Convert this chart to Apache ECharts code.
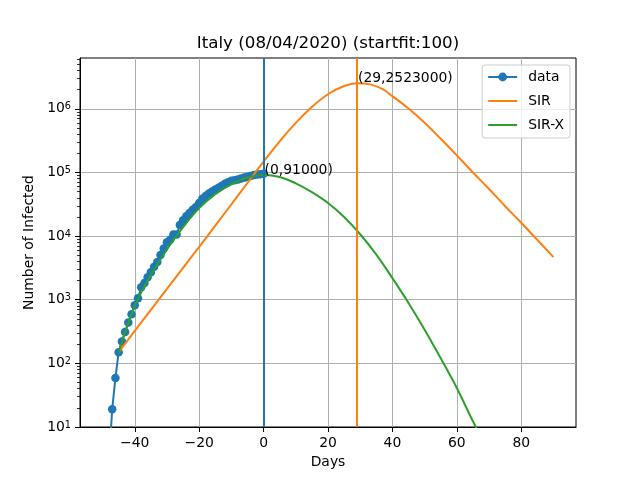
<!DOCTYPE html>
<html>
<head>
<meta charset="utf-8">
<script src="https://cdn.jsdelivr.net/npm/echarts@6/dist/echarts.min.js"></script>
<style>
  html, body { margin: 0; padding: 0; background: #fff; }
  #chart { width: 640px; height: 480px; }
</style>
</head>
<body>
<div id="chart"></div>
<script>
// observed data (days relative to 08/04/2020)
const days = [-50, -49, -48, -47, -46, -45, -44, -43, -42, -41, -40, -39, -38, -37, -36, -35,
  -34, -33, -32, -31, -30, -29, -28, -27, -26, -25, -24, -23, -22, -21, -20, -19, -18,
  -17, -16, -15, -14, -13, -12, -11, -10, -9, -8, -7, -6, -5, -4, -3, -2, -1, 0];
const infected = [3, 3, 3, 19, 59, 150, 221, 311, 438, 593, 821, 1053, 1577, 1835, 2263, 2706,
  3296, 3916, 5061, 6387, 7985, 8794, 10590, 10590, 14955, 17750, 20603, 23073, 26062, 28710, 33190, 38549, 42681,
  46638, 50418, 54030, 57521, 62013, 66414, 70065, 73880, 75528, 77635, 80572, 83049, 85388, 88274, 91246, 93187, 94067, 95262];

// SIR fit
const sirDays = [-45, -40, -35, -30, -25, -20, -15, -10, -5, 0, 5, 10, 15, 20, 25, 29, 33, 37, 40,
  45, 50, 55, 60, 65, 70, 75, 80, 85, 90];
const sirValues = [150, 324, 692, 1480, 3160, 6760, 14600, 31600, 68400, 148000, 309000, 603000, 1072000,
  1698000, 2291000, 2523000, 2427000, 2042000, 1585000, 1012000, 603000, 339000, 186000, 100000,
  55000, 29500, 16200, 8710, 4680];

// SIR-X fit
const sirxDays = [-45, -40, -35, -30, -25, -20, -15, -10, -5, 0, 5, 10, 15, 20, 25, 30, 35, 40,
  45, 50, 55, 60, 65, 70, 75, 80, 85, 90];
const sirxValues = [150, 790, 2450, 6170, 13800, 27500, 45700, 65300, 83200, 91000, 85000, 67600, 49000,
  33100, 20000, 10700, 5130, 2190, 891, 339, 120, 41, 12.3, 4.0, 1.2, 0.32, 0.08, 0.02];

const nowDay = 0, nowValue = 91000;
const peakDay = 29, peakValue = 2523000;

const xTicks = [-40, -20, 0, 20, 40, 60, 80];
const yTicks = [10, 100, 1000, 10000, 100000, 1000000];
const yMinorTicks = [];
for (let d = 10; d <= 1000000; d *= 10) {
  for (let k = 2; k <= 9; k++) yMinorTicks.push(d * k);
}

const FONT = 'DejaVu Sans';
const BLUE = '#1f77b4', ORANGE = '#ff7f0e', GREEN = '#2ca02c';

const pairs = (xs, ys) => xs.map((x, i) => [x, ys[i]]);

const chart = echarts.init(document.getElementById('chart'), null, { renderer: 'canvas' });

const option = {
  animation: false,
  backgroundColor: '#fff',
  title: {
    text: 'Italy (08/04/2020) (startfit:100)',
    left: 328,
    top: 34,
    padding: 0,
    textAlign: 'center',
    textStyle: { fontFamily: FONT, fontSize: 16.7, fontWeight: 'normal', color: '#000', lineHeight: 20 }
  },
  legend: {
    orient: 'vertical',
    right: 70,
    top: 65,
    padding: [5, 6, 6, 5],
    itemWidth: 29,
    itemHeight: 11,
    itemGap: 10,
    backgroundColor: 'rgba(255,255,255,0.8)',
    borderColor: '#cccccc',
    borderWidth: 1,
    borderRadius: 3,
    textStyle: { fontFamily: FONT, fontSize: 13.9, color: '#000', padding: [0, 0, 0, 6] },
    data: [
      { name: 'data' },
      { name: 'SIR', itemStyle: { opacity: 0 } },
      { name: 'SIR-X', itemStyle: { opacity: 0 } }
    ]
  },
  grid: {
    left: 80, right: 64, top: 58, bottom: 53,
    show: true, borderColor: '#000', borderWidth: 1, backgroundColor: 'transparent'
  },
  xAxis: {
    type: 'value',
    min: -57,
    max: 97,
    splitNumber: 8,
    name: 'Days',
    nameLocation: 'middle',
    nameGap: 28,
    nameTextStyle: { fontFamily: FONT, fontSize: 13.9, color: '#000' },
    axisLine: { show: true, onZero: false, lineStyle: { color: '#000', width: 1 } },
    axisTick: { show: true, length: 5, lineStyle: { color: '#000', width: 1 }, customValues: xTicks },
    axisLabel: {
      fontFamily: FONT, fontSize: 13.9, color: '#000', margin: 9,
      customValues: xTicks,
      formatter: v => String(v).replace('-', '\u2212')
    },
    splitLine: { show: true, lineStyle: { color: '#b0b0b0', width: 1 } }
  },
  yAxis: [{
    type: 'log',
    logBase: 10,
    min: 10,
    max: 6.3e6,
    name: 'Number of Infected',
    nameLocation: 'middle',
    nameGap: 42,
    nameTextStyle: { fontFamily: FONT, fontSize: 13.9, color: '#000' },
    axisLine: { show: true, onZero: false, lineStyle: { color: '#000', width: 1 } },
    axisTick: { show: true, length: 5, lineStyle: { color: '#000', width: 1 }, customValues: yTicks },
    axisLabel: {
      margin: 9,
      customValues: yTicks,
      formatter: v => '{b|10}{e|' + Math.round(Math.log10(v)) + '}',
      rich: {
        b: { fontFamily: FONT, fontSize: 13.9, color: '#000', lineHeight: 14, verticalAlign: 'bottom' },
        e: { fontFamily: FONT, fontSize: 9.7, color: '#000', lineHeight: 10, padding: [0, 0, 6, 0], verticalAlign: 'top' }
      }
    },
    splitLine: { show: true, lineStyle: { color: '#b0b0b0', width: 1 } }
  }, {
    type: 'log',
    logBase: 10,
    min: 10,
    max: 6.3e6,
    position: 'left',
    axisLine: { show: false, onZero: false },
    axisLabel: { show: false },
    splitLine: { show: false },
    axisTick: { show: true, length: 3, lineStyle: { color: '#000', width: 0.8 }, customValues: yMinorTicks }
  }],
  series: [
    {
      name: 'data',
      type: 'line',
      data: pairs(days, infected),
      symbol: 'circle',
      symbolSize: 8.5,
      showAllSymbol: true,
      clip: true,
      color: BLUE,
      lineStyle: { color: BLUE, width: 2 },
      itemStyle: { color: BLUE },
      z: 2,
      markLine: {
        silent: true,
        symbol: ['none', 'none'],
        label: { show: false },
        lineStyle: { color: BLUE, width: 2, type: 'solid' },
        data: [{ xAxis: nowDay }],
        z: 10
      }
    },
    {
      name: 'SIR',
      type: 'line',
      data: pairs(sirDays, sirValues),
      symbol: 'none',
      smooth: 0.4,
      clip: true,
      color: ORANGE,
      lineStyle: { color: ORANGE, width: 2 },
      z: 3,
      markLine: {
        silent: true,
        symbol: ['none', 'none'],
        label: { show: false },
        lineStyle: { color: ORANGE, width: 2, type: 'solid' },
        data: [{ xAxis: peakDay }],
        z: 10
      },
      markPoint: {
        silent: true,
        symbol: 'circle',
        symbolSize: 0,
        data: [{ coord: [peakDay, peakValue] }],
        label: {
          show: true,
          position: [1, 2],
          align: 'left',
          verticalAlign: 'bottom',
          lineHeight: 14,
          fontFamily: FONT, fontSize: 13.9, color: '#000',
          formatter: '(' + peakDay + ',' + peakValue + ')'
        }
      }
    },
    {
      name: 'SIR-X',
      type: 'line',
      data: pairs(sirxDays, sirxValues),
      symbol: 'none',
      smooth: 0.4,
      clip: true,
      color: GREEN,
      lineStyle: { color: GREEN, width: 2 },
      z: 4,
      markPoint: {
        silent: true,
        symbol: 'circle',
        symbolSize: 0,
        data: [{ coord: [nowDay, nowValue] }],
        label: {
          show: true,
          position: [1, 2],
          align: 'left',
          verticalAlign: 'bottom',
          lineHeight: 14,
          fontFamily: FONT, fontSize: 13.9, color: '#000',
          formatter: '(' + nowDay + ',' + nowValue + ')'
        }
      }
    }
  ]
};

chart.setOption(option);
</script>
</body>
</html>
